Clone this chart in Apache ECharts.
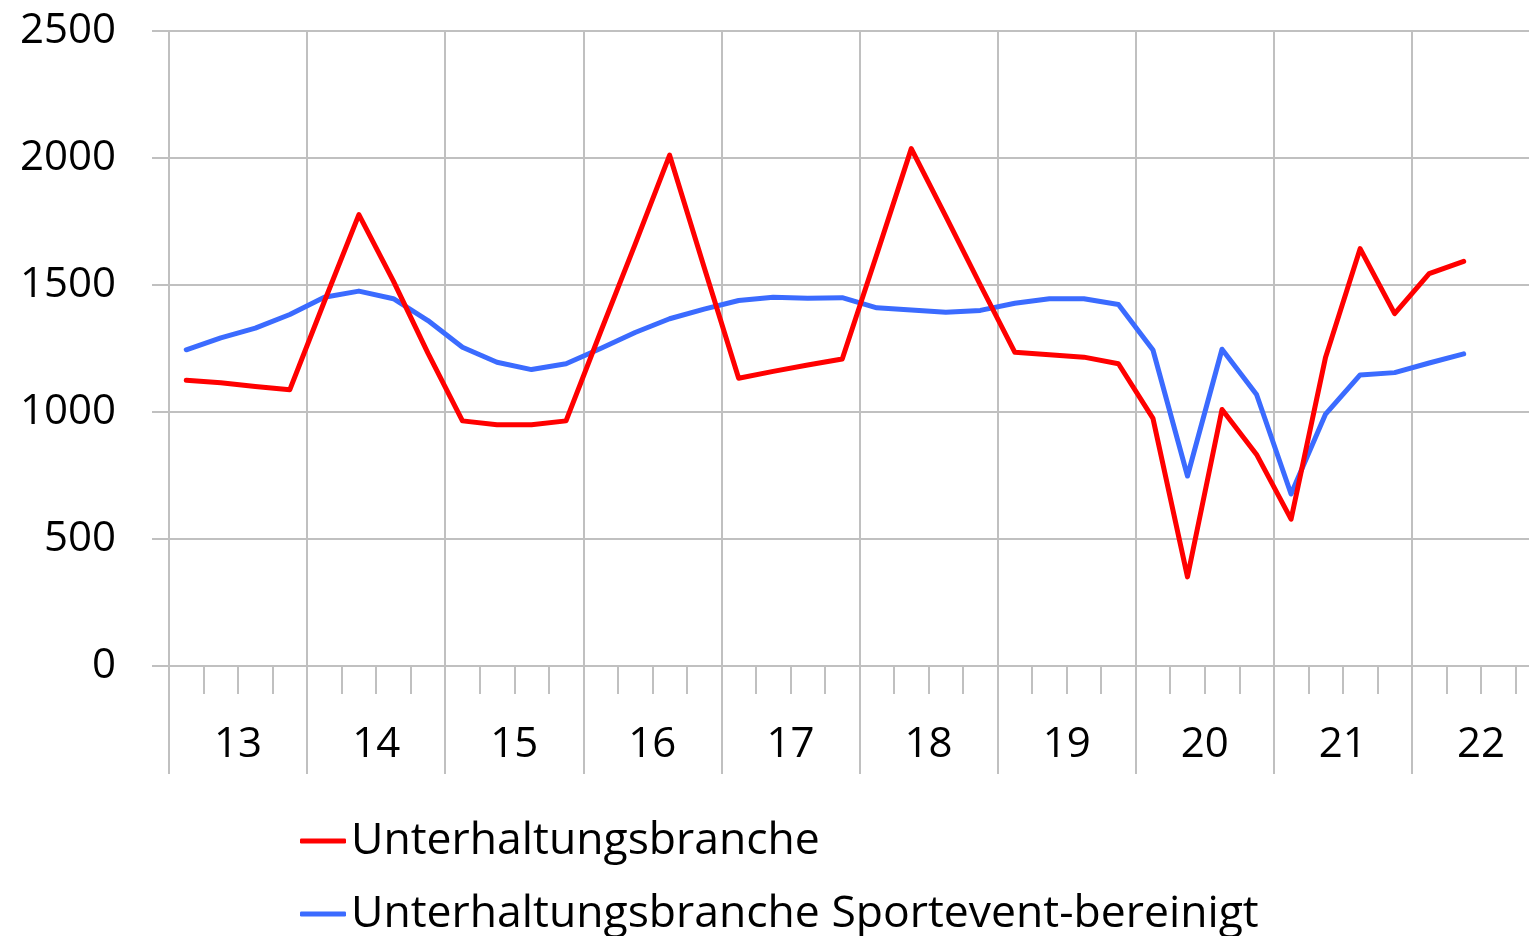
<!DOCTYPE html>
<html>
<head>
<meta charset="utf-8">
<script src="https://cdn.jsdelivr.net/npm/echarts@6/dist/echarts.min.js"></script>
<style>
  html, body { margin: 0; padding: 0; background: #fff; }
  #chart { width: 1529px; height: 936px; }
</style>
</head>
<body>
<div id="chart"></div>
<script>
// Jahre (Beschriftung) und Quartale (eine Kategorie je Quartal)
const years = ['13', '14', '15', '16', '17', '18', '19', '20', '21', '22'];
const quarters = [];
years.forEach(y => ['Q1', 'Q2', 'Q3', 'Q4'].forEach(q => quarters.push(y + q)));

// Werte ab 13Q1 bis 22Q2
const unterhaltung = [1125, 1115, 1100, 1088, 1435, 1777, 1515, 1232, 965, 950, 950, 965,
  1315, 1660, 2011, 1570, 1133, 1160, 1185, 1209, 1620, 2037, 1770, 1500,
  1235, 1225, 1216, 1190, 975, 351, 1010, 833, 578, 1216, 1643, 1387, 1545, 1593];
const bereinigt = [1245, 1292, 1330, 1384, 1452, 1476, 1446, 1360, 1255, 1196, 1167, 1190,
  1250, 1313, 1367, 1405, 1439, 1452, 1448, 1450, 1410, 1402, 1393, 1400,
  1428, 1446, 1446, 1423, 1244, 748, 1247, 1069, 677, 992, 1146, 1155, 1193, 1229];

const gridColor = '#c0c0c0';
const font = '"Open Sans", sans-serif';

const legendBase = {
  left: 300,
  padding: 0,
  itemWidth: 46,
  itemHeight: 5,
  icon: 'roundRect',
  textStyle: { fontFamily: font, fontSize: 44.5, color: '#000', lineHeight: 50 }
};

const chart = echarts.init(document.getElementById('chart'));
chart.setOption({
  backgroundColor: '#fff',
  animation: false,
  grid: { left: 169, top: 31, width: 1381, bottom: 270, outerBoundsMode: 'none' },
  legend: [
    Object.assign({}, legendBase, { top: 816, data: ['Unterhaltungsbranche'] }),
    Object.assign({}, legendBase, { top: 889, data: ['Unterhaltungsbranche Sportevent-bereinigt'] })
  ],
  xAxis: [
    {
      // Quartale: kurze Striche
      type: 'category',
      data: quarters,
      boundaryGap: true,
      axisLine: { show: true, lineStyle: { color: gridColor, width: 2 } },
      axisTick: { show: true, interval: 0, length: 28, lineStyle: { color: gridColor, width: 2 } },
      axisLabel: { show: false },
      splitLine: { show: false }
    },
    {
      // Jahre: lange Striche + senkrechte Gitterlinien
      type: 'category',
      data: years,
      position: 'bottom',
      boundaryGap: true,
      axisLine: { show: false },
      axisTick: { show: true, interval: 0, length: 108, lineStyle: { color: gridColor, width: 2 } },
      axisLabel: { interval: 0, margin: 58, fontFamily: font, fontSize: 42, color: '#000' },
      splitLine: { show: true, interval: 0, lineStyle: { color: gridColor, width: 2 } }
    }
  ],
  yAxis: {
    type: 'value',
    min: 0,
    max: 2500,
    interval: 500,
    axisLine: { show: false },
    axisTick: { show: true, length: 17, lineStyle: { color: gridColor, width: 2 } },
    axisLabel: { margin: 53, fontFamily: font, fontSize: 42, color: '#000', formatter: v => String(v) },
    splitLine: { show: true, lineStyle: { color: gridColor, width: 2 } }
  },
  series: [
    {
      name: 'Unterhaltungsbranche',
      type: 'line',
      xAxisIndex: 0,
      data: unterhaltung,
      symbol: 'none',
      color: '#ff0000',
      lineStyle: { width: 5, cap: 'round', join: 'round' },
      z: 3
    },
    {
      name: 'Unterhaltungsbranche Sportevent-bereinigt',
      type: 'line',
      xAxisIndex: 0,
      data: bereinigt,
      symbol: 'none',
      color: '#3b6bff',
      lineStyle: { width: 5, cap: 'round', join: 'round' },
      z: 2
    }
  ]
});
</script>
</body>
</html>
